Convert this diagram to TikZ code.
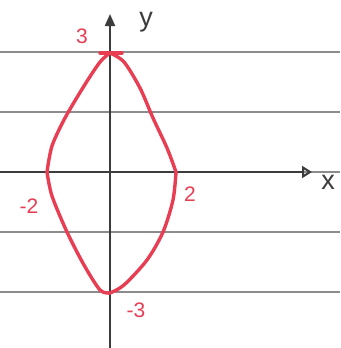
\documentclass[tikz,border=0pt]{standalone}
\usepackage{fontspec}
\setmainfont{Liberation Sans}
\usetikzlibrary{arrows.meta}
\definecolor{penred}{RGB}{232,62,84}
\definecolor{ruled}{RGB}{140,140,140}
\definecolor{pencil}{RGB}{60,60,60}
\tikzset{
  ruleline/.style={draw=ruled, line width=1.2pt},
  axisline/.style={draw=pencil, line width=2pt},
  curve/.style={draw=penred, line width=3.4pt, line join=round, line cap=round},
  redlabel/.style={text=penred, font=\fontsize{21}{21}\selectfont},
  axlabel/.style={text=pencil, font=\fontsize{27}{27}\selectfont}
}
\begin{document}
\begin{tikzpicture}[x=1pt,y=-1pt]
\useasboundingbox (0,0) rectangle (340,348);
\fill[white] (0,0) rectangle (340,348);
% ruled lines
\foreach \yy in {52,112,232,292} {\path[ruleline] (0,\yy) -- (340,\yy);}
\path[ruleline] (300,172) -- (340,172);
% axes
\coordinate (xs) at (0,172);
\coordinate (xe) at (312,172);
\coordinate (ys) at (110,348);
\coordinate (ye) at (110,14);
\draw[axisline, -{Triangle[open,length=10pt,width=12pt,line width=2pt]}] (xs) -- (xe);
\draw[axisline, -{Triangle[length=12pt,width=10pt]}] (ys) -- (ye);
\node[axlabel] (xl) at (328,182) {x};
\node[axlabel] (yl) at (146,22) {y};
% curve
\draw[curve] (100,53) -- (122,53);
\draw[curve] plot[smooth] coordinates {(110,53) (124,62) (140,88) (153,118) (167,148) (176,172)};
\draw[curve] plot[smooth] coordinates {(176,172) (173,200) (163,232) (147,260) (124,285) (110,293)};
\draw[curve] plot[smooth] coordinates {(110,293) (100,290) (84,265) (67,232) (52,196) (47,172)};
\draw[curve] plot[smooth] coordinates {(47,172) (52,146) (65,118) (84,86) (100,62) (110,53)};
% labels
\node[redlabel] (l3) at (82,36) {3};
\node[redlabel] (lm2) at (29,206) {-2};
\node[redlabel] (l2) at (190,194) {2};
\node[redlabel] (lm3) at (136,310) {-3};
\end{tikzpicture}
\end{document}
